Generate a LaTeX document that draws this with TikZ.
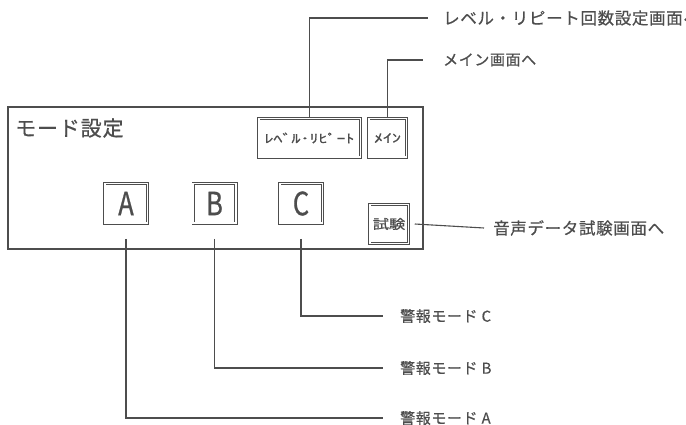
\documentclass[tikz,border=0pt]{standalone}
\usepackage{fontspec}
\usepackage{graphicx}
\newfontfamily\jp[LetterSpace=4, FakeBold=0.6]{Noto Sans CJK JP}
\newfontfamily\jpn[FakeBold=0.8]{Noto Sans CJK JP}
\definecolor{ink}{HTML}{4D4D4D}

\begin{document}
\begin{tikzpicture}[x=1pt, y=-1pt,
  panel/.style={draw=ink, line width=1.1pt, inner sep=0pt},
  btn/.style={draw=ink, double=white, double distance=1.6pt, line width=0.9pt, inner sep=0pt, text=ink},
  lbl/.style={anchor=west, inner sep=0pt, text=ink, font=\jp\fontsize{15}{15}\selectfont},
  big/.style={font=\jp\fontsize{16.5}{16.5}\selectfont},
  wire/.style={draw=ink, line width=1.1pt}]
  \useasboundingbox (0,0) rectangle (686,425);
  \node[panel, minimum width=415pt, minimum height=142pt] (panel) at (215.5,178) {};
  \node[lbl, font=\jp\fontsize{21}{21}\selectfont] (title) at (15,128) {モード設定};
  \node[btn, minimum width=101.6pt, minimum height=38.6pt] (lvl) at (309.5,138) {\scalebox{1.5}[1]{\jpn\fontsize{12}{12}\selectfont ﾚﾍﾞﾙ･ﾘﾋﾟｰﾄ}};
  \node[btn, minimum width=37.6pt, minimum height=38.6pt] (main) at (387.5,138) {\scalebox{1.5}[1]{\jpn\fontsize{12}{12}\selectfont ﾒｲﾝ}};
  \node[btn, minimum width=42.6pt, minimum height=39.6pt] (A) at (126,203.5) {\scalebox{0.8}[1]{\jpn\fontsize{32}{32}\selectfont A}};
  \node[btn, minimum width=42.6pt, minimum height=39.6pt] (B) at (214.5,203.5) {\scalebox{0.8}[1]{\jpn\fontsize{32}{32}\selectfont B}};
  \node[btn, minimum width=42.6pt, minimum height=39.6pt] (C) at (301,203.5) {\scalebox{0.8}[1]{\jpn\fontsize{32}{32}\selectfont C}};
  \node[btn, minimum width=38.6pt, minimum height=38.6pt] (test) at (389,224) {\scalebox{1.25}[1]{\jpn\fontsize{13}{13}\selectfont 試験}};
  \node[lbl, big] (tLvl) at (443,18) {レベル・リピート回数設定画面へ};
  \node[lbl] (tMain) at (443,60) {メイン画面へ};
  \node[lbl, big] (tTest) at (493,228) {音声データ試験画面へ};
  \node[lbl] (tC) at (400,316) {警報モード\hspace{4pt}C};
  \node[lbl] (tB) at (400,368) {警報モード\hspace{4pt}B};
  \node[lbl] (tA) at (400,418) {警報モード\hspace{4pt}A};
  \draw[wire] (lvl.north) |- ([xshift=-15pt]tLvl.west);
  \draw[wire] (main.north) |- ([xshift=-20pt]tMain.west);
  \draw[wire] ([xshift=6pt]test.east) -- ([xshift=-9pt]tTest.west);
  \draw[wire] ([yshift=-15pt]C.south) |- ([xshift=-17pt]tC.west);
  \draw[wire] ([yshift=-15pt]B.south) |- ([xshift=-17pt]tB.west);
  \draw[wire] ([yshift=-15pt]A.south) |- ([xshift=-17pt]tA.west);
\end{tikzpicture}
\end{document}
